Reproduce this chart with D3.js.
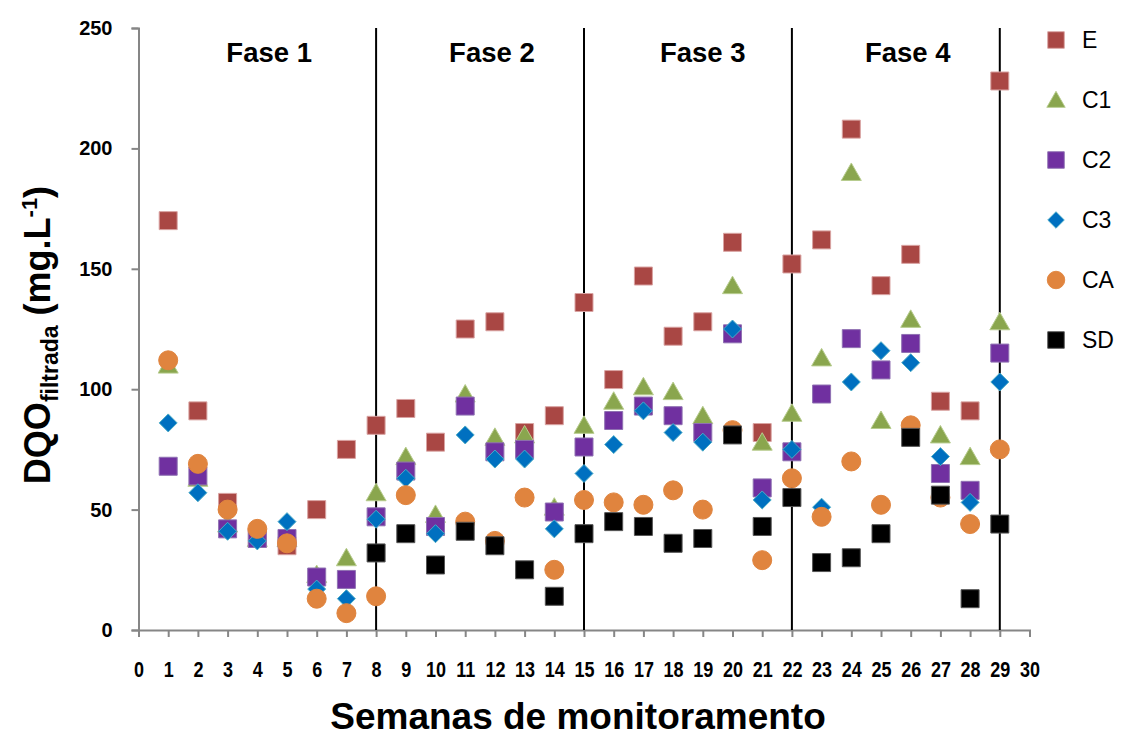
<!DOCTYPE html>
<html>
<head>
<meta charset="utf-8">
<script src="https://cdn.jsdelivr.net/npm/d3@7"></script>
<style>
  body { margin: 0; background: #fff; }
  text { font-family: "Liberation Sans", Arial, sans-serif; }
</style>
</head>
<body>
<svg width="1126" height="736"></svg>
<script>
// weeks 1..29
var weeks = d3.range(1, 30);

// series values (null = no point)
var valE  = [170, 91, 53, 38, 35, 50, 75, 85, 92, 78, 125, 128, 82, 89, 136, 104, 147, 122, 128, 161, 82, 152, 162, 208, 143, 156, 95, 91, 228];
var valC1 = [110, 63, 44, 38, 38, 23, 30, 57, 72, 48, 98, 80, 81, 51, 85, 95, 101, 99, 89, 143, 78, 90, 113, 190, 87, 129, 81, 72, 128];
var valC2 = [68, 64, 42, 38, 38, 22, 21, 47, 66, 43, 93, 74, 75, 49, 76, 87, 93, 89, 82, 123, 59, 74, 98, 121, 108, 119, 65, 58, 115];
var valC3 = [86, 57, 41, 37, 45, 17, 13, 46, 63, 40, 81, 71, 71, 42, 65, 77, 91, 82, 78, 125, 54, 75, 51, 103, 116, 111, 72, 53, 103];
var valCA = [112, 69, 50, 42, 36, 13, 7, 14, 56, null, 45, 37, 55, 25, 54, 53, 52, 58, 50, 83, 29, 63, 47, 70, 52, 85, 55, 44, 75];
var valSD = [null, null, null, null, null, null, null, 32, 40, 27, 41, 35, 25, 14, 40, 45, 43, 36, 38, 81, 43, 55, 28, 30, 40, 80, 56, 13, 44];

var phaseLines = [8, 15, 22, 29];
var phaseNames = ['Fase 1', 'Fase 2', 'Fase 3', 'Fase 4'];
var phaseCenters = [4.4, 11.9, 19, 25.9];
var yTicks = [0, 50, 100, 150, 200, 250];
var xTicks = d3.range(0, 31);

var series = [
  { name: 'E',  values: valE,  shape: 'square',   fill: '#A94744', stroke: '#D9A3A2' },
  { name: 'C1', values: valC1, shape: 'triangle', fill: '#8AA64E', stroke: '#B7CC8E' },
  { name: 'C2', values: valC2, shape: 'square',   fill: '#7030A0', stroke: '#8F71B2' },
  { name: 'C3', values: valC3, shape: 'diamond',  fill: '#0070C0', stroke: '#4BACC6' },
  { name: 'CA', values: valCA, shape: 'circle',   fill: '#E0843E', stroke: '#E0843E' },
  { name: 'SD', values: valSD, shape: 'square',   fill: '#000000', stroke: '#555555' }
];

var svg = d3.select('svg');

var x = d3.scaleLinear().domain([0, 30]).range([138.5, 1029.5]);
var y = d3.scaleLinear().domain([0, 250]).range([630, 28]);

function shapePath(shape) {
  if (shape === 'square') return d3.symbol(d3.symbolSquare, 18 * 18)();
  if (shape === 'triangle') return 'M0,-9.5L10,8L-10,8Z';
  if (shape === 'diamond') return 'M0,-9L9,0L0,9L-9,0Z';
  return d3.symbol(d3.symbolCircle, Math.PI * 9.5 * 9.5)();
}

// axes
var yAxis = svg.append('g')
  .attr('transform', 'translate(' + x(0) + ',0)')
  .call(d3.axisLeft(y).tickValues(yTicks).tickSize(7).tickPadding(19));
yAxis.select('.domain').attr('stroke', '#868686').attr('stroke-width', 2);
yAxis.selectAll('.tick line').attr('stroke', '#868686').attr('stroke-width', 2);
yAxis.selectAll('.tick text')
  .attr('font-size', 20).attr('font-weight', 'bold').attr('fill', '#000')
  .attr('font-family', '"Liberation Sans", Arial, sans-serif');

var xAxis = svg.append('g')
  .attr('transform', 'translate(0,' + y(0) + ')')
  .call(d3.axisBottom(x).tickValues(xTicks).tickSize(7).tickFormat(d3.format('d')));
xAxis.select('.domain').attr('stroke', '#868686').attr('stroke-width', 2);
xAxis.selectAll('.tick line').attr('stroke', '#868686').attr('stroke-width', 2);
xAxis.selectAll('.tick text').remove();

// condensed week labels
xAxis.selectAll('.tick').append('text')
  .attr('transform', 'translate(0,47) scale(0.8,1)')
  .attr('text-anchor', 'middle')
  .attr('font-size', 22.5).attr('font-weight', 'bold').attr('fill', '#000')
  .text(function (d) { return d; });

// phase lines
svg.selectAll('.phase').data(phaseLines).enter().append('line')
  .attr('class', 'phase')
  .attr('x1', function (d) { return x(d); }).attr('x2', function (d) { return x(d); })
  .attr('y1', y(250)).attr('y2', y(0))
  .attr('stroke', '#000').attr('stroke-width', 2);

svg.selectAll('.phaseName').data(phaseNames).enter().append('text')
  .attr('x', function (d, i) { return x(phaseCenters[i]); })
  .attr('y', 62)
  .attr('text-anchor', 'middle')
  .attr('font-size', 27.5).attr('font-weight', 'bold')
  .text(function (d) { return d; });

// points
series.forEach(function (s) {
  var pts = weeks.map(function (w, i) { return { w: w, v: s.values[i] }; })
    .filter(function (d) { return d.v !== null; });
  svg.append('g').selectAll('path').data(pts).enter().append('path')
    .attr('d', shapePath(s.shape))
    .attr('transform', function (d) { return 'translate(' + x(d.w) + ',' + y(d.v) + ')'; })
    .attr('fill', s.fill)
    .attr('stroke', s.stroke).attr('stroke-width', 1);
});

// legend
var legend = svg.append('g').selectAll('g').data(series).enter().append('g')
  .attr('transform', function (d, i) { return 'translate(1056,' + (40 + i * 60) + ')'; });
legend.append('path')
  .attr('d', function (d) { return shapePath(d.shape); })
  .attr('transform', 'scale(0.92)')
  .attr('fill', function (d) { return d.fill; })
  .attr('stroke', function (d) { return d.stroke; });
legend.append('text')
  .attr('x', 26).attr('y', 8)
  .attr('font-size', 23)
  .text(function (d) { return d.name; });

// axis titles
svg.append('text')
  .attr('x', 578).attr('y', 729)
  .attr('text-anchor', 'middle')
  .attr('font-size', 37).attr('font-weight', 'bold')
  .text('Semanas de monitoramento');

var yt = svg.append('text')
  .attr('transform', 'translate(50,335) rotate(-90)')
  .attr('text-anchor', 'middle')
  .attr('font-size', 36).attr('font-weight', 'bold');
yt.append('tspan').text('DQO');
yt.append('tspan').attr('font-size', 23).attr('dy', 8).text('filtrada');
yt.append('tspan').attr('dy', -8).text(' (mg.L');
yt.append('tspan').attr('font-size', 22).attr('dy', -13).text('-1');
yt.append('tspan').attr('dy', 13).text(')');
</script>
</body>
</html>
